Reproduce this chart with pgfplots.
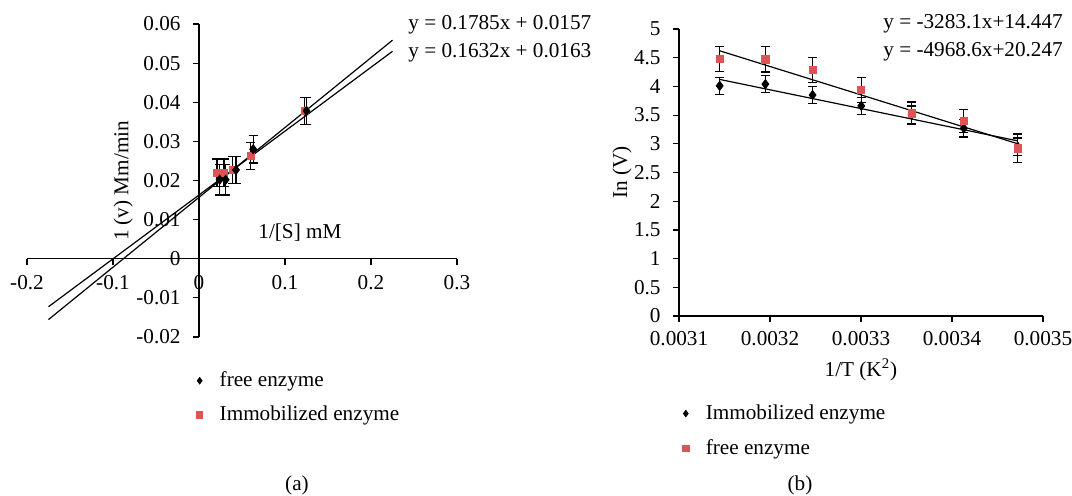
\documentclass[border=0pt]{standalone}
\usepackage{pgfplots}
\pgfplotsset{compat=1.18}
\usepackage{fontspec}
\setmainfont{Liberation Serif}
\definecolor{redm}{RGB}{222,84,84}
\pgfplotsset{
  mylegend/.style={
    legend style={draw=none, fill=none, inner sep=0pt,
      nodes={inner sep=1.5pt}},
    legend cell align=left,
    legend image post style={mark size=1.6pt},
    legend image code/.code={\draw[##1] plot coordinates {(0.2cm,0cm)};
      \path[draw=none] (0.2cm-2.3pt,0cm) -- (0.2cm+8.5pt,0cm);},
  },
  myerr/.style={error bars/.cd, y dir=both, y explicit,
    error bar style={black, line width=0.6pt},
    error mark=|,
    error mark options={black, mark size=2.3pt, line width=0.6pt}},
}
\begin{document}
\fontsize{10.6}{12.7}\selectfont
\begin{tikzpicture}
\useasboundingbox (0,0) rectangle (536pt,247.5pt);
% ---------------- panel (a)
\begin{axis}[
  at={(13.5pt,79pt)}, anchor=south west, scale only axis,
  width=215pt, height=156.5pt,
  axis lines=middle, axis line style={-, line width=0.6pt},
  xmin=-0.2, xmax=0.3, ymin=-0.02, ymax=0.06,
  scaled x ticks=false, scaled y ticks=false,
  xtick={-0.2,-0.1,0,0.1,0.2,0.3}, xticklabels={-0.2,-0.1,0,0.1,0.2,0.3},
  ytick={-0.02,-0.01,0,0.01,0.02,0.03,0.04,0.05,0.06},
  yticklabels={-0.02,-0.01,0,0.01,0.02,0.03,0.04,0.05,0.06},
  hide obscured x ticks=false, hide obscured y ticks=false,
  tick align=outside, major tick length=3pt,
  tick style={line width=0.6pt, black},
  x tick label style={yshift=-1.5pt},
  y tick label style={xshift=-2.5pt},
  clip=false,
  mylegend, reverse legend,
  legend style={at={(rel axis cs:0.39,-0.10)}, anchor=north west, row sep=5pt},
]
\addplot[forget plot, black, line width=0.6pt] coordinates {(-0.175,-0.01554) (0.225,0.05586)};
\addplot[forget plot, black, line width=0.6pt] coordinates {(-0.175,-0.01226) (0.225,0.05302)};
\addplot[only marks, mark=square*, mark size=1.8pt, mark options={draw=redm, fill=redm}, myerr]
  table[y error=e] {
x y e
0.021 0.0220 0.0035
0.029 0.0220 0.0035
0.039 0.0227 0.0035
0.060 0.0263 0.0035
0.123 0.0378 0.0035
};
\addlegendentry{Immobilized enzyme}
\addplot[only marks, mark=diamond*, mark size=2.3pt, black, myerr]
  table[y error=e] {
x y e
0.024 0.0202 0.0039
0.031 0.0202 0.0039
0.043 0.0227 0.0035
0.063 0.0280 0.0035
0.125 0.0378 0.0035
};
\addlegendentry{free enzyme}
\node[rotate=90] at (axis cs:-0.088,0.0199) {1 (v) Mm/min};
\node at (axis cs:0.1174,0.0066) {1/[S] mM};
\node[anchor=west, inner sep=0pt] at (axis cs:0.243,0.0597) {y = 0.1785x + 0.0157};
\node[anchor=west, inner sep=0pt] at (axis cs:0.243,0.0526) {y = 0.1632x + 0.0163};
\end{axis}
% ---------------- panel (b)
\begin{axis}[
  at={(339.5pt,89.5pt)}, anchor=south west, scale only axis,
  width=182pt, height=143.5pt,
  axis lines=left, axis line style={-, line width=0.6pt},
  xmin=0.0031, xmax=0.0035, ymin=0, ymax=5,
  scaled x ticks=false, scaled y ticks=false,
  xtick={0.0031,0.0032,0.0033,0.0034,0.0035},
  xticklabels={0.0031,0.0032,0.0033,0.0034,0.0035},
  ytick={0,0.5,1,1.5,2,2.5,3,3.5,4,4.5,5},
  yticklabels={0,0.5,1,1.5,2,2.5,3,3.5,4,4.5,5},
  tick align=outside, major tick length=3pt,
  tick style={line width=0.6pt, black},
  x tick label style={yshift=-1pt},
  y tick label style={xshift=-2.5pt},
  xlabel={1/T (K\textsuperscript{2})},
  xlabel style={yshift=1pt},
  clip=false,
  mylegend,
  legend style={at={(rel axis cs:0.005,-0.297)}, anchor=north west, row sep=5.5pt},
]
\addplot[forget plot, black, line width=0.6pt] coordinates {(0.0031447,4.1217) (0.0034722,3.0514)};
\addplot[forget plot, black, line width=0.6pt] coordinates {(0.0031447,4.6208) (0.0034722,3.0010)};
\addplot[only marks, mark=diamond*, mark size=2.3pt, black, myerr]
  table[y error=e] {
x y e
0.0031447 4.01 0.15
0.0031949 4.04 0.15
0.0032468 3.85 0.15
0.0033003 3.66 0.15
0.0033557 3.51 0.15
0.0034130 3.27 0.15
0.0034722 2.95 0.15
};
\addlegendentry{Immobilized enzyme}
\addplot[only marks, mark=square*, mark size=1.8pt, mark options={draw=redm, fill=redm}, myerr]
  table[y error=e] {
x y e
0.0031447 4.48 0.22
0.0031949 4.47 0.22
0.0032468 4.29 0.22
0.0033003 3.94 0.22
0.0033557 3.53 0.20
0.0034130 3.40 0.20
0.0034722 2.92 0.25
};
\addlegendentry{free enzyme}
\node[rotate=90] at (rel axis cs:-0.1566,0.5) {In (V)};
\node[anchor=west, inner sep=0pt] at (axis cs:0.0033242,5.10) {y = -3283.1x+14.447};
\node[anchor=west, inner sep=0pt] at (axis cs:0.0033242,4.60) {y = -4968.6x+20.247};
\end{axis}
\node at (148.5pt,5pt) {(a)};
\node at (400pt,5pt) {(b)};
\end{tikzpicture}
\end{document}
